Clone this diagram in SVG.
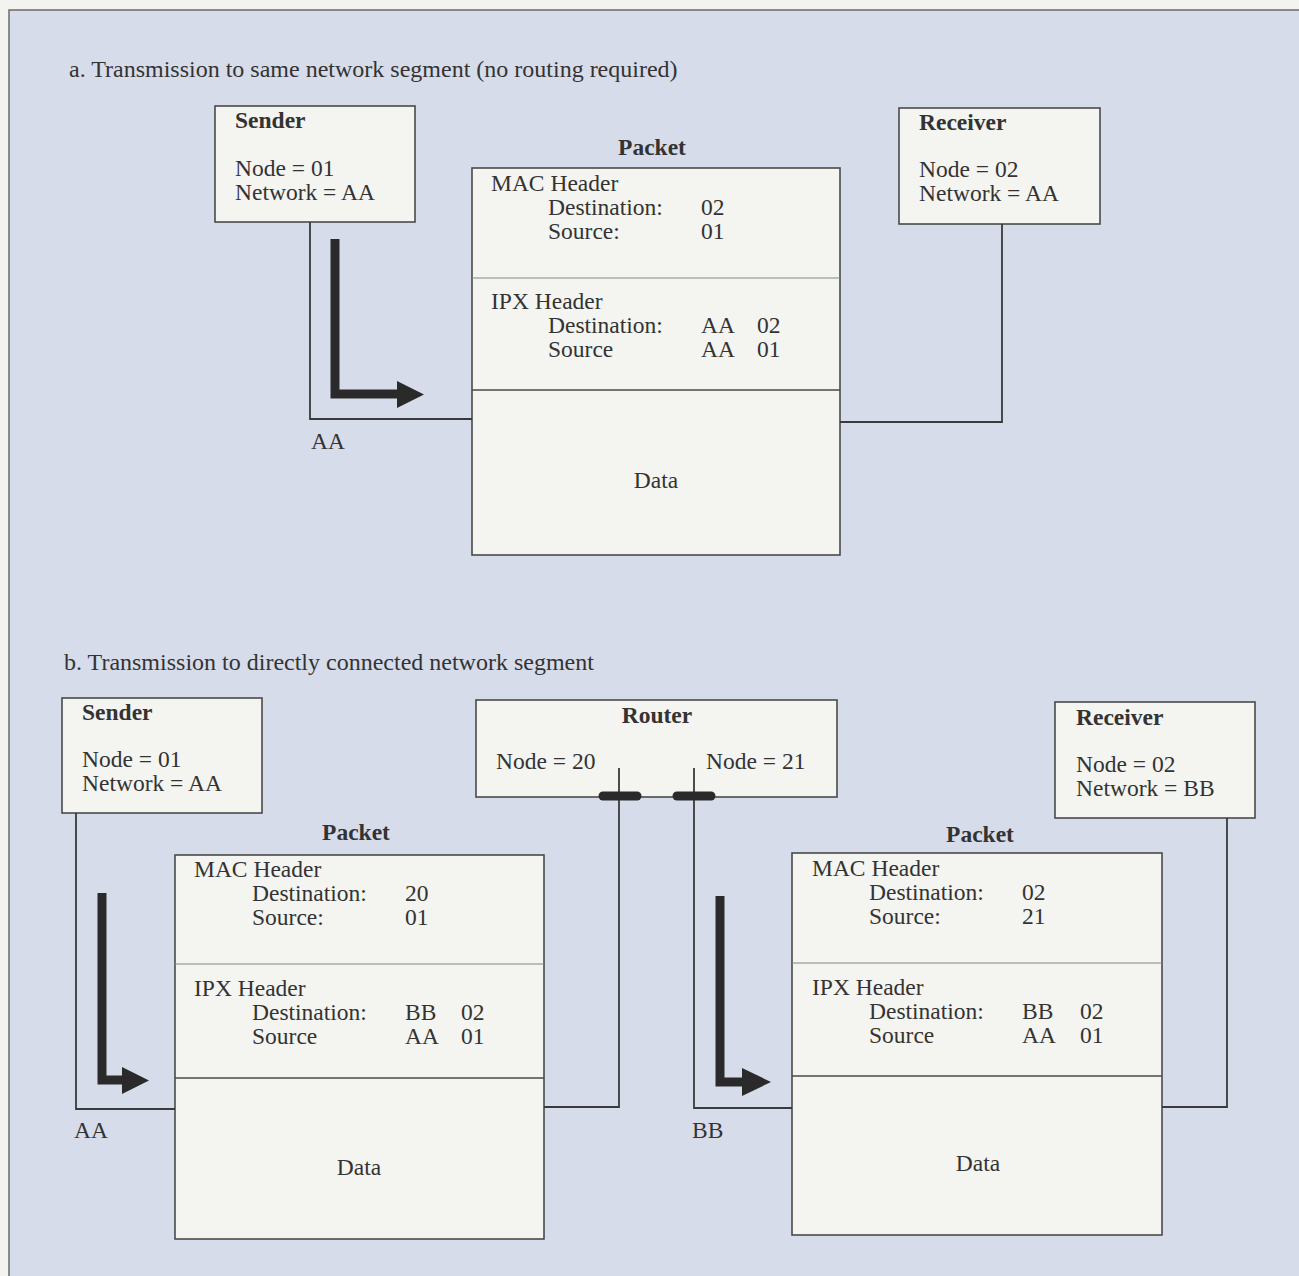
<svg xmlns="http://www.w3.org/2000/svg" width="1299" height="1276" viewBox="0 0 1299 1276">
  <style>
    text { font-family: "Liberation Serif", "Times New Roman", serif; font-size: 23.5px; fill: #333333; }
    .t { font-size: 24px; }
    .b { font-weight: bold; }
    .c { text-anchor: middle; }
    .box { fill: #f4f4f1; stroke: #4a4a4a; stroke-width: 1.6; }
    .div { stroke: #7d8a7a; stroke-width: 1; }
    .divd { stroke: #4a4a4a; stroke-width: 1.6; }
    .wire { fill: none; stroke: #3a3a3a; stroke-width: 1.8; }
    .flow { fill: none; stroke: #2a2a2a; stroke-width: 9; }
    .head { fill: #2a2a2a; }
    .tap { stroke: #2a2a2a; stroke-width: 9; stroke-linecap: round; }
  </style>

  <!-- page and panel -->
  <rect x="0" y="0" width="1299" height="1276" fill="#f3f3ef"/>
  <rect x="9" y="10" width="1290" height="1266" fill="#d7dcea"/>
  <path d="M9,1276 V10 H1299" fill="none" stroke="#6b6b6b" stroke-width="1.5"/>

  <!-- section titles -->
  <text class="t" x="69" y="77">a. Transmission to same network segment (no routing required)</text>
  <text class="t" x="64" y="670">b. Transmission to directly connected network segment</text>

  <!-- network labels -->
  <text x="311" y="449">AA</text>
  <text x="74" y="1138">AA</text>
  <text x="692" y="1138">BB</text>

  <!-- a: sender -->
  <g id="sender-a">
    <rect class="box" x="215" y="106" width="200" height="116"/>
    <text class="b" x="235" y="128">Sender</text>
    <text x="235" y="176">Node = 01</text>
    <text x="235" y="200">Network = AA</text>
  </g>

  <!-- a: packet -->
  <g id="packet-a">
    <text class="b c" x="652" y="155">Packet</text>
    <rect class="box" x="472" y="168" width="368" height="387"/>
    <line class="div" x1="472" y1="278" x2="840" y2="278"/>
    <line class="divd" x1="472" y1="390" x2="840" y2="390"/>
    <text x="491" y="191">MAC Header</text>
    <text x="548" y="215">Destination:</text>
    <text x="701" y="215">02</text>
    <text x="548" y="239">Source:</text>
    <text x="701" y="239">01</text>
    <text x="491" y="309">IPX Header</text>
    <text x="548" y="333">Destination:</text>
    <text x="701" y="333">AA</text>
    <text x="757" y="333">02</text>
    <text x="548" y="357">Source</text>
    <text x="701" y="357">AA</text>
    <text x="757" y="357">01</text>
    <text class="c" x="656" y="488">Data</text>
  </g>

  <!-- a: receiver -->
  <g id="receiver-a">
    <rect class="box" x="899" y="108" width="201" height="116"/>
    <text class="b" x="919" y="130">Receiver</text>
    <text x="919" y="177">Node = 02</text>
    <text x="919" y="201">Network = AA</text>
  </g>

  <!-- b: sender -->
  <g id="sender-b">
    <rect class="box" x="62" y="698" width="200" height="115"/>
    <text class="b" x="82" y="720">Sender</text>
    <text x="82" y="767">Node = 01</text>
    <text x="82" y="791">Network = AA</text>
  </g>

  <!-- b: router -->
  <g id="router">
    <rect class="box" x="476" y="700" width="361" height="97"/>
    <text class="b c" x="657" y="723">Router</text>
    <text x="496" y="769">Node = 20</text>
    <text x="706" y="769">Node = 21</text>
  </g>

  <!-- b: packet on segment AA -->
  <g id="packet-b1">
    <text class="b c" x="356" y="840">Packet</text>
    <rect class="box" x="175" y="855" width="369" height="384"/>
    <line class="div" x1="175" y1="964" x2="544" y2="964"/>
    <line class="divd" x1="175" y1="1078" x2="544" y2="1078"/>
    <text x="194" y="877">MAC Header</text>
    <text x="252" y="901">Destination:</text>
    <text x="405" y="901">20</text>
    <text x="252" y="925">Source:</text>
    <text x="405" y="925">01</text>
    <text x="194" y="996">IPX Header</text>
    <text x="252" y="1020">Destination:</text>
    <text x="405" y="1020">BB</text>
    <text x="461" y="1020">02</text>
    <text x="252" y="1044">Source</text>
    <text x="405" y="1044">AA</text>
    <text x="461" y="1044">01</text>
    <text class="c" x="359" y="1175">Data</text>
  </g>

  <!-- b: packet on segment BB -->
  <g id="packet-b2">
    <text class="b c" x="980" y="842">Packet</text>
    <rect class="box" x="792" y="853" width="370" height="382"/>
    <line class="div" x1="792" y1="963" x2="1162" y2="963"/>
    <line class="divd" x1="792" y1="1076" x2="1162" y2="1076"/>
    <text x="812" y="876">MAC Header</text>
    <text x="869" y="900">Destination:</text>
    <text x="1022" y="900">02</text>
    <text x="869" y="924">Source:</text>
    <text x="1022" y="924">21</text>
    <text x="812" y="995">IPX Header</text>
    <text x="869" y="1019">Destination:</text>
    <text x="1022" y="1019">BB</text>
    <text x="1080" y="1019">02</text>
    <text x="869" y="1043">Source</text>
    <text x="1022" y="1043">AA</text>
    <text x="1080" y="1043">01</text>
    <text class="c" x="978" y="1171">Data</text>
  </g>

  <!-- b: receiver -->
  <g id="receiver-b">
    <rect class="box" x="1055" y="702" width="200" height="116"/>
    <text class="b" x="1076" y="725">Receiver</text>
    <text x="1076" y="772">Node = 02</text>
    <text x="1076" y="796">Network = BB</text>
  </g>

  <!-- connectors, drawn last so the router drops sit over its box -->
  <g id="connectors">
    <!-- a: sender to packet, packet to receiver -->
    <path class="wire" d="M310,222 V419 H472"/>
    <path class="wire" d="M840,422 H1002 V224"/>
    <!-- b: sender side -->
    <path class="wire" d="M76,813 V1109 H175"/>
    <path class="wire" d="M544,1107 H619 V768"/>
    <!-- b: receiver side -->
    <path class="wire" d="M694,768 V1108 H792"/>
    <path class="wire" d="M1162,1107 H1227 V818"/>
    <!-- router taps -->
    <line class="tap" x1="603" y1="796" x2="637" y2="796"/>
    <line class="tap" x1="677" y1="796" x2="711" y2="796"/>
    <!-- flow arrows -->
    <path class="flow" d="M335,239 V394 H398"/>
    <polygon class="head" points="397,381 424,394.5 397,408"/>
    <path class="flow" d="M102,893 V1080 H123"/>
    <polygon class="head" points="122,1067 149,1080.5 122,1094"/>
    <path class="flow" d="M720,896 V1082 H743"/>
    <polygon class="head" points="742,1068 771,1082 742,1096"/>
  </g>
</svg>
